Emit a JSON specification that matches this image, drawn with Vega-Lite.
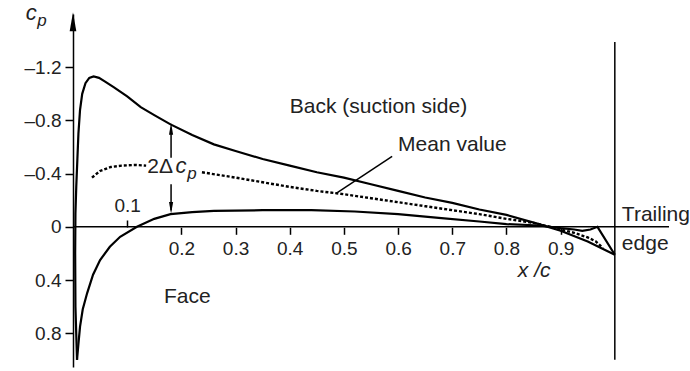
{
  "$schema": "https://vega.github.io/schema/vega-lite/v6.json",
  "autosize": "none",
  "width": 596,
  "height": 353,
  "padding": {"left": 73, "top": 14, "right": 21, "bottom": 4},
  "background": "white",
  "config": {
    "view": {"stroke": null},
    "font": "Liberation Sans",
    "axis": {
      "domainColor": "black", "domainWidth": 1.5, "tickColor": "black", "tickWidth": 1.5,
      "labelColor": "#222", "labelFont": "Liberation Sans", "labelFontSize": 19, "grid": false, "title": null
    }
  },
  "datasets": {
    "back": [
      {"i":0,"x":0.0074,"cp":1.0},{"i":1,"x":0.0045,"cp":0.6},{"i":2,"x":0.004,"cp":0.2},{"i":3,"x":0.0045,"cp":-0.1},
      {"i":4,"x":0.006,"cp":-0.3},{"i":5,"x":0.008,"cp":-0.5},{"i":6,"x":0.010,"cp":-0.7},{"i":7,"x":0.013,"cp":-0.88},
      {"i":8,"x":0.017,"cp":-1.0},{"i":9,"x":0.023,"cp":-1.08},{"i":10,"x":0.030,"cp":-1.12},{"i":11,"x":0.038,"cp":-1.13},
      {"i":12,"x":0.048,"cp":-1.12},{"i":13,"x":0.060,"cp":-1.09},{"i":14,"x":0.075,"cp":-1.05},{"i":15,"x":0.10,"cp":-0.98},
      {"i":16,"x":0.125,"cp":-0.90},{"i":17,"x":0.15,"cp":-0.84},{"i":18,"x":0.18,"cp":-0.77},{"i":19,"x":0.22,"cp":-0.69},
      {"i":20,"x":0.26,"cp":-0.62},{"i":21,"x":0.30,"cp":-0.57},{"i":22,"x":0.35,"cp":-0.51},{"i":23,"x":0.40,"cp":-0.46},
      {"i":24,"x":0.45,"cp":-0.41},{"i":25,"x":0.50,"cp":-0.37},{"i":26,"x":0.55,"cp":-0.32},{"i":27,"x":0.60,"cp":-0.27},
      {"i":28,"x":0.65,"cp":-0.22},{"i":29,"x":0.70,"cp":-0.18},{"i":30,"x":0.75,"cp":-0.13},{"i":31,"x":0.80,"cp":-0.09},
      {"i":32,"x":0.86,"cp":-0.02},{"i":33,"x":0.90,"cp":0.03},{"i":34,"x":0.95,"cp":0.11},{"i":35,"x":1.0,"cp":0.21}
    ],
    "face": [
      {"i":0,"x":0.0074,"cp":1.0},{"i":1,"x":0.010,"cp":0.88},{"i":2,"x":0.013,"cp":0.75},{"i":3,"x":0.018,"cp":0.62},
      {"i":4,"x":0.026,"cp":0.50},{"i":5,"x":0.037,"cp":0.36},{"i":6,"x":0.05,"cp":0.25},{"i":7,"x":0.068,"cp":0.15},
      {"i":8,"x":0.087,"cp":0.075},{"i":9,"x":0.118,"cp":0.0},{"i":10,"x":0.15,"cp":-0.06},{"i":11,"x":0.18,"cp":-0.095},
      {"i":12,"x":0.22,"cp":-0.11},{"i":13,"x":0.26,"cp":-0.12},{"i":14,"x":0.35,"cp":-0.125},{"i":15,"x":0.44,"cp":-0.125},
      {"i":16,"x":0.52,"cp":-0.115},{"i":17,"x":0.60,"cp":-0.095},{"i":18,"x":0.68,"cp":-0.065},{"i":19,"x":0.75,"cp":-0.04},
      {"i":20,"x":0.80,"cp":-0.02},{"i":21,"x":0.86,"cp":-0.01},{"i":22,"x":0.90,"cp":0.01},{"i":23,"x":0.925,"cp":0.02},
      {"i":24,"x":0.94,"cp":0.03},{"i":25,"x":0.955,"cp":0.02},{"i":26,"x":0.968,"cp":0.0},{"i":27,"x":1.0,"cp":0.21}
    ],
    "mean": [
      {"seg":"a","x":0.035,"cp":-0.37},{"seg":"a","x":0.05,"cp":-0.42},{"seg":"a","x":0.07,"cp":-0.45},{"seg":"a","x":0.09,"cp":-0.46},
      {"seg":"a","x":0.115,"cp":-0.465},{"seg":"a","x":0.135,"cp":-0.46},
      {"seg":"b","x":0.238,"cp":-0.41},{"seg":"b","x":0.30,"cp":-0.37},{"seg":"b","x":0.35,"cp":-0.335},{"seg":"b","x":0.40,"cp":-0.30},
      {"seg":"b","x":0.45,"cp":-0.27},{"seg":"b","x":0.50,"cp":-0.245},{"seg":"b","x":0.55,"cp":-0.215},{"seg":"b","x":0.60,"cp":-0.185},
      {"seg":"b","x":0.65,"cp":-0.155},{"seg":"b","x":0.70,"cp":-0.125},{"seg":"b","x":0.75,"cp":-0.095},{"seg":"b","x":0.80,"cp":-0.06},
      {"seg":"b","x":0.85,"cp":-0.03},{"seg":"b","x":0.90,"cp":0.02},{"seg":"b","x":0.925,"cp":0.045},{"seg":"b","x":0.95,"cp":0.08},
      {"seg":"b","x":0.965,"cp":0.11},{"seg":"b","x":0.978,"cp":0.16}
    ],
    "rules": [
      {"x":0.0,"x2":1.1,"y":0.0,"y2":0.0},
      {"x":1.0,"x2":1.0,"y":-1.39,"y2":1.0},
      {"x":0.181,"x2":0.181,"y":-0.52,"y2":-0.745},
      {"x":0.181,"x2":0.181,"y":-0.32,"y2":-0.125},
      {"x":0.485,"x2":0.589,"y":-0.25,"y2":-0.53}
    ],
    "labels": [
      {"t":"Back (suction side)","x":0.40,"cp":-0.857,"sz":21},
      {"t":"Mean value","x":0.60,"cp":-0.571,"sz":21},
      {"t":"Face","x":0.168,"cp":0.571,"sz":21},
      {"t":"Trailing","x":1.013,"cp":-0.045,"sz":21},
      {"t":"edge","x":1.013,"cp":0.173,"sz":21},
      {"t":"2Δ","x":0.137,"cp":-0.406,"sz":21}
    ],
    "italics": [
      {"t":"c","x":0.189,"cp":-0.406,"sz":22},
      {"t":"p","x":0.211,"cp":-0.36,"sz":17},
      {"t":"x /c","x":0.821,"cp":0.376,"sz":21},
      {"t":"c","x":-0.087,"cp":-1.556,"sz":22},
      {"t":"p","x":-0.066,"cp":-1.51,"sz":17}
    ],
    "heads": [
      {"x":0.0,"cp":-1.542,"dir":"up","s":289},
      {"x":0.181,"cp":-0.737,"dir":"up","s":110},
      {"x":0.181,"cp":-0.143,"dir":"down","s":110}
    ]
  },
  "resolve": {"axis": {"x": "independent", "y": "independent"}},
  "layer": [
    {
      "data": {"name": "back"},
      "mark": {"type": "line", "color": "black", "strokeWidth": 2.2, "clip": false},
      "encoding": {
        "x": {"field": "x", "type": "quantitative", "scale": {"domain": [0, 1.1], "nice": false, "zero": false},
          "axis": {"orient": "bottom", "offset": -139.7, "values": [0.2,0.3,0.4,0.5,0.6,0.7,0.8,0.9], "domain": false, "tickSize": 7, "labelPadding": 5, "format": ".1f"}},
        "y": {"field": "cp", "type": "quantitative", "scale": {"domain": [-1.6, 1.054], "reverse": true, "nice": false, "zero": false},
          "axis": {"orient": "left", "values": [-1.2,-0.8,-0.4,0,0.4,0.8], "tickSize": 8, "labelPadding": 4,
            "labelExpr": "datum.value < 0 ? '–' + format(-datum.value, '.1f') : (datum.value == 0 ? '0' : format(datum.value, '.1f'))"}},
        "order": {"field": "i", "type": "quantitative"}
      }
    },
    {
      "data": {"name": "face"},
      "mark": {"type": "line", "color": "black", "strokeWidth": 2.2, "clip": false},
      "encoding": {
        "x": {"field": "x", "type": "quantitative",
          "axis": {"orient": "top", "offset": -213, "values": [0.1], "domain": false, "tickSize": 7, "labelPadding": 5, "format": ".1f"}},
        "y": {"field": "cp", "type": "quantitative", "axis": null},
        "order": {"field": "i", "type": "quantitative"}
      }
    },
    {
      "data": {"name": "mean"},
      "mark": {"type": "line", "color": "black", "strokeWidth": 2.4, "strokeDash": [3, 2], "clip": false},
      "encoding": {
        "x": {"field": "x", "type": "quantitative", "axis": null},
        "y": {"field": "cp", "type": "quantitative", "axis": null},
        "detail": {"field": "seg"}
      }
    },
    {
      "data": {"name": "rules"},
      "mark": {"type": "rule", "color": "black", "strokeWidth": 1.5, "clip": false},
      "encoding": {
        "x": {"field": "x", "type": "quantitative", "axis": null},
        "x2": {"field": "x2"},
        "y": {"field": "y", "type": "quantitative", "axis": null},
        "y2": {"field": "y2"}
      }
    },
    {
      "data": {"name": "heads"},
      "mark": {"type": "point", "filled": true, "color": "black", "opacity": 1, "clip": false},
      "encoding": {
        "x": {"field": "x", "type": "quantitative", "axis": null},
        "y": {"field": "cp", "type": "quantitative", "axis": null},
        "shape": {"field": "dir", "type": "nominal", "legend": null,
          "scale": {"domain": ["up", "down"], "range": ["M0,-1L0.35,1L-0.35,1Z", "M0,1L0.35,-1L-0.35,-1Z"]}},
        "size": {"field": "s", "type": "quantitative", "legend": null, "scale": {"type": "identity"}}
      }
    },
    {
      "data": {"name": "labels"},
      "mark": {"type": "text", "align": "left", "baseline": "alphabetic", "color": "#222", "font": "Liberation Sans", "clip": false},
      "encoding": {
        "x": {"field": "x", "type": "quantitative", "axis": null},
        "y": {"field": "cp", "type": "quantitative", "axis": null},
        "text": {"field": "t"},
        "size": {"field": "sz", "type": "quantitative", "scale": null, "legend": null}
      }
    },
    {
      "data": {"name": "italics"},
      "mark": {"type": "text", "align": "left", "baseline": "alphabetic", "color": "#222", "font": "Liberation Sans", "fontStyle": "italic", "clip": false},
      "encoding": {
        "x": {"field": "x", "type": "quantitative", "axis": null},
        "y": {"field": "cp", "type": "quantitative", "axis": null},
        "text": {"field": "t"},
        "size": {"field": "sz", "type": "quantitative", "scale": null, "legend": null}
      }
    }
  ]
}
